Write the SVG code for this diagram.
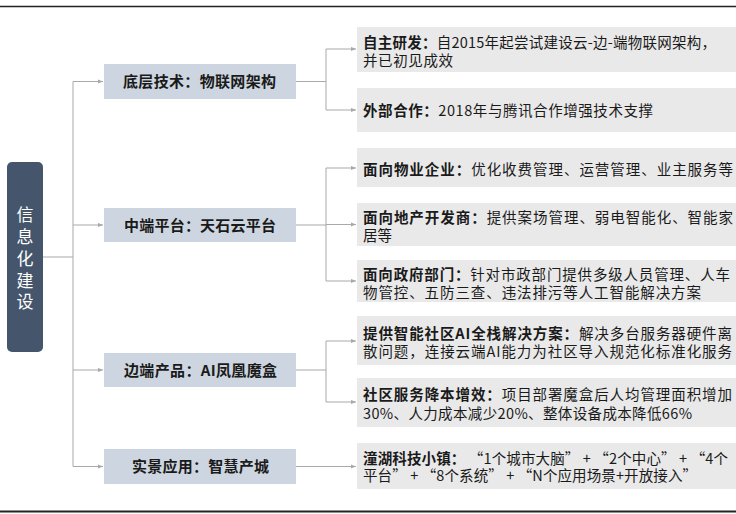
<svg xmlns="http://www.w3.org/2000/svg" width="736" height="514" viewBox="0 0 736 514">
<style>
text{font-family:"Noto Sans CJK SC","Noto Sans CJK JP",sans-serif;fill:#1a1a1a}
.mid{font-size:15px;font-weight:700}
.det{font-size:14.5px}
.b{font-weight:700}
.root{font-size:17px;fill:#ffffff;text-anchor:middle}
.midbox{fill:#CDD6E0}
.detbox{fill:#E9E9E9}
.conn{fill:none;stroke:#A9A9A9;stroke-width:1}
</style>
<defs>
<marker id="ah" viewBox="0 0 6 6" refX="6" refY="3" markerWidth="5" markerHeight="5" orient="auto" markerUnits="userSpaceOnUse">
<path d="M0,0.5 L6,3 L0,5.5 z" fill="#A9A9A9"/>
</marker>
</defs>
<rect width="736" height="514" fill="#ffffff"/>
<line x1="0" y1="6.5" x2="736" y2="6.5" stroke="#222" stroke-width="1.5"/>
<line x1="0" y1="511.5" x2="736" y2="511.5" stroke="#222" stroke-width="2"/>

<g id="connectors">
<path class="conn" d="M43,257 H73 M73,81.5 V466.5"/>
<path class="conn" marker-end="url(#ah)" d="M73,81.5 H103"/>
<path class="conn" marker-end="url(#ah)" d="M73,225 H103"/>
<path class="conn" marker-end="url(#ah)" d="M73,370 H103"/>
<path class="conn" marker-end="url(#ah)" d="M73,466.5 H103"/>
<path class="conn" d="M296,81.5 H326 M326,49 V110"/>
<path class="conn" marker-end="url(#ah)" d="M326,49 H356"/>
<path class="conn" marker-end="url(#ah)" d="M326,110 H356"/>
<path class="conn" d="M296,225 H326 M326,168 V281"/>
<path class="conn" marker-end="url(#ah)" d="M326,168 H356"/>
<path class="conn" marker-end="url(#ah)" d="M326,224.5 H356"/>
<path class="conn" marker-end="url(#ah)" d="M326,281 H356"/>
<path class="conn" d="M296,370 H326 M326,341 V402"/>
<path class="conn" marker-end="url(#ah)" d="M326,341 H356"/>
<path class="conn" marker-end="url(#ah)" d="M326,402 H356"/>
<path class="conn" marker-end="url(#ah)" d="M296,466.5 H356"/>
</g>

<g id="root">
<rect x="7" y="162" width="36" height="190" rx="5" fill="#45566C"/>
<text class="root"><tspan x="25" y="221">信</tspan><tspan x="25" y="243">息</tspan><tspan x="25" y="265">化</tspan><tspan x="25" y="287">建</tspan><tspan x="25" y="308">设</tspan></text>
</g>

<g id="mid1">
<rect class="midbox" x="104" y="64" width="192" height="35"/>
<text class="mid" x="123" y="87" textLength="153" lengthAdjust="spacing">底层技术：物联网架构</text>
</g>
<g id="mid2">
<rect class="midbox" x="104" y="208" width="192" height="34"/>
<text class="mid" x="124" y="230.5" textLength="152" lengthAdjust="spacing">中端平台：天石云平台</text>
</g>
<g id="mid3">
<rect class="midbox" x="104" y="353" width="192" height="34"/>
<text class="mid" x="124" y="375.5" textLength="153" lengthAdjust="spacing">边端产品：AI凤凰魔盒</text>
</g>
<g id="mid4">
<rect class="midbox" x="104" y="449" width="192" height="35"/>
<text class="mid" x="132" y="472" textLength="137" lengthAdjust="spacing">实景应用：智慧产城</text>
</g>

<g id="d1">
<rect class="detbox" x="357" y="27" width="379" height="45"/>
<text class="det"><tspan x="363" y="47.5" textLength="353" lengthAdjust="spacing"><tspan class="b">自主研发：</tspan>自2015年起尝试建设云-边-端物联网架构，</tspan><tspan x="363" y="65.5" textLength="90" lengthAdjust="spacing">并已初见成效</tspan></text>
</g>
<g id="d2">
<rect class="detbox" x="357" y="88" width="379" height="44"/>
<text class="det" x="363" y="115.5" textLength="290" lengthAdjust="spacing"><tspan class="b">外部合作：</tspan>2018年与腾讯合作增强技术支撑</text>
</g>
<g id="d3">
<rect class="detbox" x="357" y="148" width="379" height="39"/>
<text class="det" x="363" y="174.5" textLength="370" lengthAdjust="spacing"><tspan class="b">面向物业企业：</tspan>优化收费管理、运营管理、业主服务等</text>
</g>
<g id="d4">
<rect class="detbox" x="357" y="203" width="379" height="43"/>
<text class="det"><tspan x="363" y="222.5" textLength="370" lengthAdjust="spacing"><tspan class="b">面向地产开发商：</tspan>提供案场管理、弱电智能化、智能家</tspan><tspan x="363" y="240.5" textLength="29" lengthAdjust="spacing">居等</tspan></text>
</g>
<g id="d5">
<rect class="detbox" x="357" y="260" width="379" height="42"/>
<text class="det"><tspan x="363" y="279.5" textLength="367" lengthAdjust="spacing"><tspan class="b">面向政府部门：</tspan>针对市政部门提供多级人员管理、人车</tspan><tspan x="363" y="297.5" textLength="338" lengthAdjust="spacing">物管控、五防三查、违法排污等人工智能解决方案</tspan></text>
</g>
<g id="d6">
<rect class="detbox" x="357" y="316" width="379" height="49"/>
<text class="det"><tspan x="363" y="338.5" textLength="369" lengthAdjust="spacing"><tspan class="b">提供智能社区AI全栈解决方案：</tspan>解决多台服务器硬件离</tspan><tspan x="363" y="356.5" textLength="369" lengthAdjust="spacing">散问题，连接云端AI能力为社区导入规范化标准化服务</tspan></text>
</g>
<g id="d7">
<rect class="detbox" x="357" y="378" width="379" height="49"/>
<text class="det"><tspan x="363" y="400" textLength="369" lengthAdjust="spacing"><tspan class="b">社区服务降本增效：</tspan>项目部署魔盒后人均管理面积增加</tspan><tspan x="363" y="418.5" textLength="329" lengthAdjust="spacing">30%、人力成本减少20%、整体设备成本降低66%</tspan></text>
</g>
<g id="d8">
<rect class="detbox" x="357" y="443" width="379" height="46"/>
<text class="det"><tspan x="363" y="463.5" textLength="365" lengthAdjust="spacing"><tspan class="b">潼湖科技小镇：</tspan> “1个城市大脑” + “2个中心” + “4个</tspan><tspan x="363" y="481" textLength="334" lengthAdjust="spacing">平台” + “8个系统” + “N个应用场景+开放接入”</tspan></text>
</g>
</svg>
